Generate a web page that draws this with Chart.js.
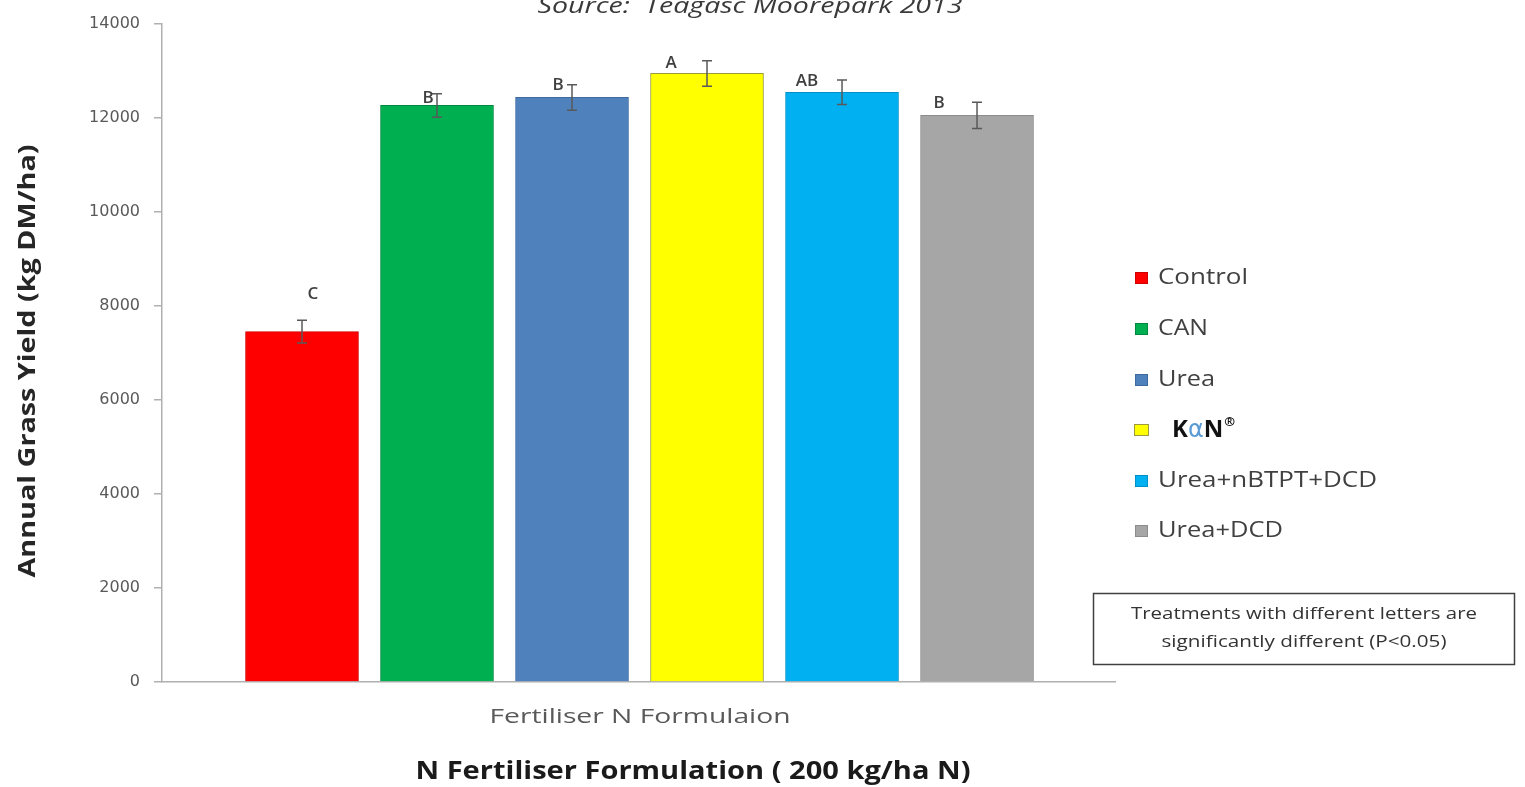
<!DOCTYPE html>
<html>
<head>
<meta charset="utf-8">
<script src="https://cdn.jsdelivr.net/npm/chart.js@4.4.1/dist/chart.umd.min.js"></script>
<style>
html,body{margin:0;padding:0;background:#fff;}
canvas{display:block;}
</style>
</head>
<body>
<canvas id="c" width="1525" height="787"></canvas>
<script>
// ---- data ----
const categories = ["Control", "CAN", "Urea", "K\u03b1N\u00ae", "Urea+nBTPT+DCD", "Urea+DCD"];
const yieldValues = [7450, 12260, 12430, 12940, 12540, 12050];
const errorValues = [240, 250, 270, 270, 260, 280];
const sigLetters = ["C", "B", "B", "A", "AB", "B"];
const yTickValues = [0, 2000, 4000, 6000, 8000, 10000, 12000, 14000];

// ---- styles ----
const barColors = ["#ff0000", "#00b050", "#4f81bd", "#ffff00", "#00b0f0", "#a6a6a6"];
const barBorders = ["#d00000", "#00893e", "#3c6a9e", "#9a9a40", "#0090c8", "#8c8c8c"];
const letterOffsets = [[11, -37], [-9, -7], [-14, -12], [-36, -10], [-35, -11], [-38, -12]];

function fitText(ctx, text, x, y, font, width, color, align) {
  ctx.save();
  ctx.font = font;
  const m = ctx.measureText(text).width;
  const sx = width / m;
  ctx.translate(x, y);
  ctx.scale(sx, 1);
  ctx.textAlign = align || 'center';
  ctx.textBaseline = 'middle';
  ctx.fillStyle = color;
  ctx.fillText(text, 0, 0);
  ctx.restore();
}

const extras = {
  id: 'extras',
  afterDatasetsDraw(chart) {
    const ctx = chart.ctx;
    const ys = chart.scales.y;
    const meta = chart.getDatasetMeta(0);
    // error bars
    ctx.save();
    ctx.strokeStyle = '#595959';
    ctx.lineWidth = 1.5;
    meta.data.forEach((bar, i) => {
      const top = ys.getPixelForValue(yieldValues[i] + errorValues[i]);
      const bot = ys.getPixelForValue(yieldValues[i] - errorValues[i]);
      const x = bar.x;
      ctx.beginPath();
      ctx.moveTo(x, top); ctx.lineTo(x, bot);
      ctx.moveTo(x - 5, top); ctx.lineTo(x + 5, top);
      ctx.moveTo(x - 5, bot); ctx.lineTo(x + 5, bot);
      ctx.stroke();
    });
    ctx.restore();
    // significance letters
    meta.data.forEach((bar, i) => {
      const y = ys.getPixelForValue(yieldValues[i]);
      ctx.save();
      ctx.font = '600 17px "Open Sans"';
      ctx.fillStyle = '#404040';
      ctx.textAlign = 'center';
      ctx.textBaseline = 'middle';
      ctx.fillText(sigLetters[i], bar.x + letterOffsets[i][0], y + letterOffsets[i][1]);
      ctx.restore();
    });
  },
  afterDraw(chart) {
    const ctx = chart.ctx;
    // top source title (cut off at top)
    fitText(ctx, "Source:  Teagasc Moorepark 2013", 750, 7, 'italic 22px "Open Sans"', 425, '#3a3a3a');
    // x axis sub label
    fitText(ctx, "Fertiliser N Formulaion", 640, 717, '20px "Open Sans"', 301, '#595959');
    // main x title
    fitText(ctx, "N Fertiliser Formulation ( 200 kg/ha N)", 693, 772, 'bold 25px "Open Sans"', 555, '#1a1a1a');
    // y title
    ctx.save();
    ctx.translate(28, 361);
    ctx.rotate(-Math.PI / 2);
    fitText(ctx, "Annual Grass Yield (kg DM/ha)", 0, 0, 'bold 23px "Open Sans"', 433, '#262626');
    ctx.restore();
    // legend
    const legY = [278, 329, 380, 430, 481, 531];
    const legW = [90, 50, 57, 0, 219, 125];
    categories.forEach((c, i) => {
      const y = legY[i];
      ctx.save();
      if (i === 3) {
        ctx.fillStyle = barColors[i];
        ctx.fillRect(1134, y - 6, 15, 12);
        ctx.strokeStyle = '#9a9a40';
        ctx.lineWidth = 1;
        ctx.strokeRect(1134.5, y - 5.5, 14, 11);
        // K alpha N (R)
        ctx.textBaseline = 'middle';
        ctx.textAlign = 'left';
        let x = 1172;
        ctx.font = 'bold 24px "Open Sans"';
        ctx.fillStyle = '#111';
        ctx.fillText('K', x, y); x += ctx.measureText('K').width;
        ctx.font = '24px "DejaVu Sans"';
        ctx.fillStyle = '#5b9bd5';
        ctx.fillText('\u03b1', x, y + 1); x += ctx.measureText('\u03b1').width;
        ctx.font = 'bold 24px "Open Sans"';
        ctx.fillStyle = '#111';
        ctx.fillText('N', x, y); x += ctx.measureText('N').width + 1;
        ctx.font = 'bold 13px "Open Sans"';
        ctx.fillText('\u00ae', x, y - 8);
      } else {
        ctx.fillStyle = barColors[i];
        ctx.fillRect(1135, y - 6, 13, 12);
        ctx.strokeStyle = barBorders[i];
        ctx.lineWidth = 1;
        ctx.strokeRect(1135.5, y - 5.5, 12, 11);
        fitText(ctx, c, 1158, y, '21px "Open Sans"', legW[i], '#404040', 'left');
      }
      ctx.restore();
    });
    // note box
    ctx.save();
    ctx.strokeStyle = '#404040';
    ctx.lineWidth = 1.5;
    ctx.strokeRect(1093.5, 593.5, 421, 71);
    ctx.restore();
    fitText(ctx, "Treatments with different letters are", 1304, 614, '17px "Open Sans"', 346, '#333');
    fitText(ctx, "significantly different (P<0.05)", 1304, 642, '17px "Open Sans"', 285, '#333');
  }
};

new Chart(document.getElementById('c'), {
  type: 'bar',
  data: {
    datasets: [{
      data: yieldValues.map((v, i) => ({ x: i, y: v })),
      backgroundColor: barColors,
      borderColor: barBorders,
      borderWidth: 1,
      barThickness: 113
    }]
  },
  options: {
    responsive: false,
    animation: false,
    layout: { padding: { left: 0, right: 410, top: 21, bottom: 0 } },
    plugins: { legend: { display: false }, tooltip: { enabled: false }, title: { display: false } },
    scales: {
      x: {
        type: 'linear',
        min: -1.037,
        max: 6.022,
        offset: false,
        ticks: { display: false },
        grid: { display: false },
        border: { display: true, color: '#b0b0b0', width: 1.5 },
        afterFit(s) { s.height = 105; }
      },
      y: {
        min: 0,
        max: 14000,
        afterBuildTicks(s) { s.ticks = yTickValues.map(v => ({ value: v })); },
        ticks: {
          font: { family: 'DejaVu Sans', size: 16 },
          color: '#595959',
          padding: 14,
          callback: (v) => String(v)
        },
        grid: { drawOnChartArea: false, tickLength: 8, color: '#b0b0b0', lineWidth: 1.5 },
        border: { display: true, color: '#b0b0b0', width: 1.5 },
        afterFit(s) { s.width = 162; }
      }
    }
  },
  plugins: [extras]
});
</script>
</body>
</html>
